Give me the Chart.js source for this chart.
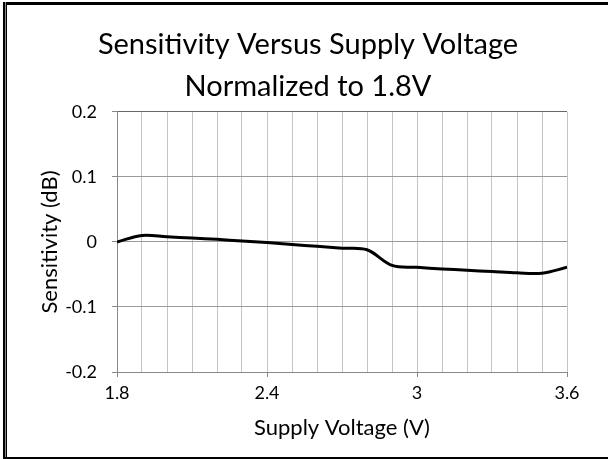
<!DOCTYPE html>
<html>
<head>
<meta charset="utf-8">
<script src="https://cdn.jsdelivr.net/npm/chart.js@4/dist/chart.umd.min.js"></script>
<style>
html,body{margin:0;padding:0;background:#fff;}
#wrap{position:relative;width:608px;height:459px;}
</style>
</head>
<body>
<div id="wrap"><canvas id="c" width="608" height="459"></canvas></div>
<script>
const voltage = [1.8,1.9,2.0,2.1,2.2,2.3,2.4,2.5,2.6,2.7,2.8,2.9,3.0,3.1,3.2,3.3,3.4,3.5,3.6];
const sensitivity = [0,0.010,0.008,0.006,0.004,0.0015,-0.001,-0.004,-0.0065,-0.0095,-0.012,-0.036,-0.039,-0.0415,-0.0435,-0.0455,-0.0475,-0.048,-0.039];
const xLabels = [1.8,2.4,3.0,3.6];
const titleLines = ['Sensitivity Versus Supply Voltage','Normalized to 1.8V'];
const xTitle = 'Supply Voltage (V)';
const yTitle = 'Sensitivity (dB)';

const FONT = 'Lato, "Open Sans", sans-serif';
const isLabel = v => xLabels.some(l => Math.abs(l - v) < 1e-6);

const frame = {
  id:'frame',
  afterDraw(chart){
    const c = chart.ctx;
    c.save();
    c.fillStyle='#000';
    c.fillRect(3,2,605,3);
    c.fillRect(3,2,2,457);
    c.fillStyle='#888';
    c.fillRect(5,2,1,457);
    c.fillStyle='#000';
    c.fillRect(6,2,1,457);
    c.fillRect(3,457,605,2);
    c.restore();
  }
};

new Chart(document.getElementById('c'), {
  type:'line',
  data:{
    datasets:[{
      data: voltage.map((v,i)=>({x:v,y:sensitivity[i]})),
      borderColor:'#000',
      borderWidth:3,
      pointRadius:0,
      tension:0.35,
      fill:false
    }]
  },
  options:{
    responsive:false,
    animation:false,
    layout:{padding:{left:8,right:0,top:0,bottom:0}},
    plugins:{
      legend:{display:false},
      tooltip:{enabled:false},
      title:{
        display:true,
        text:titleLines,
        color:'#000',
        font:{family:FONT,size:29,weight:'normal',lineHeight:1.43},
        padding:{top:24,bottom:5}
      }
    },
    scales:{
      x:{
        type:'linear',
        min:1.8,max:3.6,
        afterBuildTicks(scale){
          scale.ticks = voltage.map(v=>({value:v}));
        },
        afterFit(scale){ scale.height = 87; },
        ticks:{
          autoSkip:false,
          maxRotation:0,
          padding:5,
          color:'#000',
          font:{family:FONT,size:18},
          callback:(v)=> isLabel(v) ? (Math.round(v*10)/10).toString() : ''
        },
        grid:{
          color:'#c4c4c4',
          lineWidth:1,
          tickLength:5,
          tickColor:(ctx)=> (ctx.tick && isLabel(ctx.tick.value)) ? '#888' : 'rgba(0,0,0,0)'
        },
        border:{color:'#888'},
        title:{display:true,text:xTitle,color:'#000',font:{family:FONT,size:22},padding:{top:0,bottom:18}}
      },
      y:{
        min:-0.2,max:0.2,
        afterFit(scale){ scale.width = 109; },
        ticks:{
          stepSize:0.1,
          padding:15,
          color:'#000',
          font:{family:FONT,size:18},
          callback:(v)=> { const r=Math.round(v*10)/10; return r===0?'0':r.toString(); }
        },
        grid:{
          color:(ctx)=> (ctx.tick && Math.abs(ctx.tick.value-0.2)<1e-6) ? '#666' : '#999',
          tickLength:5,
          tickColor:'#888'
        },
        border:{color:'#888'},
        title:{display:true,text:yTitle,color:'#000',font:{family:FONT,size:22},padding:{top:29,bottom:0}}
      },
      yRightSpace:{
        position:'right',
        min:-0.2,max:0.2,
        afterFit(scale){ scale.width = 41; },
        ticks:{display:false},
        grid:{display:false},
        border:{display:false}
      }
    }
  },
  plugins:[frame]
});
</script>
</body>
</html>
